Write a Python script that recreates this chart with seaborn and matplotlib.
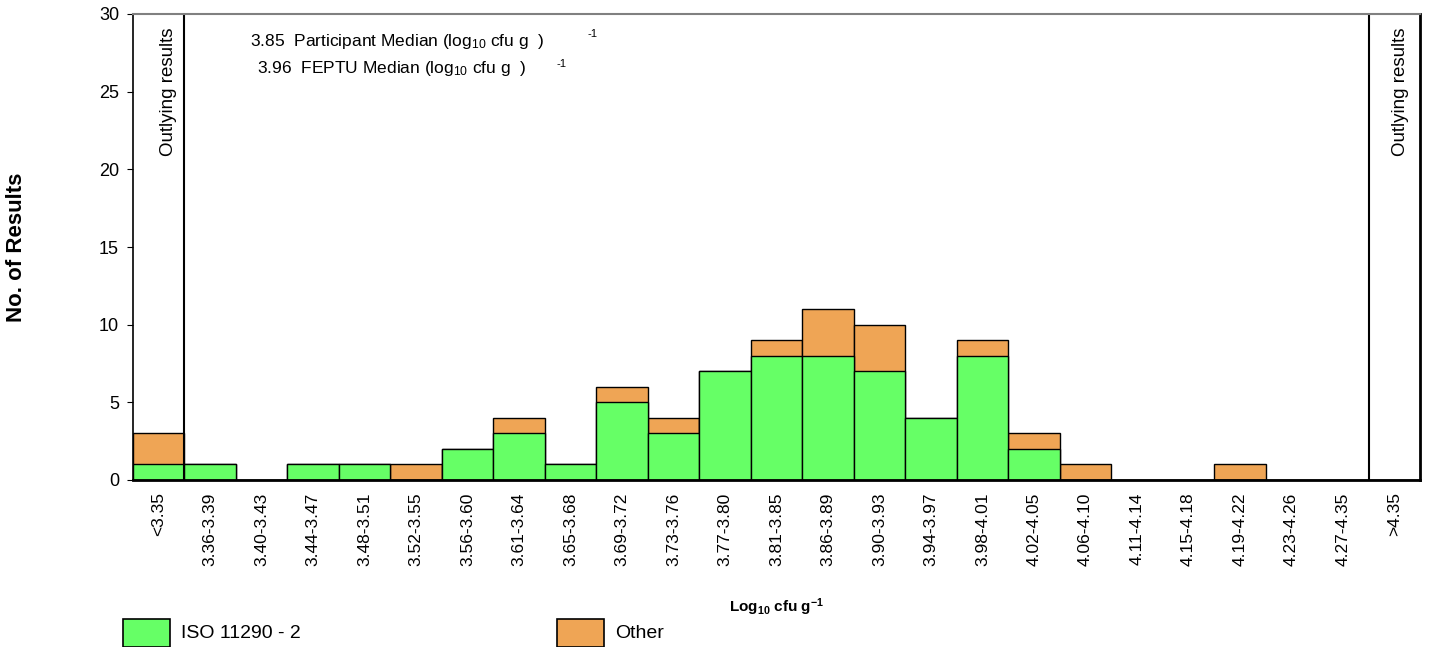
import matplotlib
matplotlib.use("Agg")
import matplotlib.pyplot as plt
import seaborn as sns
import pandas as pd
from matplotlib.patches import Rectangle

categories = ["<3.35", "3.36-3.39", "3.40-3.43", "3.44-3.47", "3.48-3.51", "3.52-3.55",
              "3.56-3.60", "3.61-3.64", "3.65-3.68", "3.69-3.72", "3.73-3.76", "3.77-3.80",
              "3.81-3.85", "3.86-3.89", "3.90-3.93", "3.94-3.97", "3.98-4.01", "4.02-4.05",
              "4.06-4.10", "4.11-4.14", "4.15-4.18", "4.19-4.22", "4.23-4.26", "4.27-4.35", ">4.35"]
iso_counts = [1, 1, 0, 1, 1, 0, 2, 3, 1, 5, 3, 7, 8, 8, 7, 4, 8, 2, 0, 0, 0, 0, 0, 0, 0]
other_counts = [2, 0, 0, 0, 0, 1, 0, 1, 0, 1, 1, 0, 1, 3, 3, 0, 1, 1, 1, 0, 0, 1, 0, 0, 0]
yticks = [0, 5, 10, 15, 20, 25, 30]
series_names = ["ISO 11290 - 2", "Other"]
participant_median = 3.85
feptu_median = 3.96

GREEN = "#66FF66"
ORANGE = "#EFA555"

sns.set_style("white")
plt.rcParams["font.family"] = ["Liberation Sans", "DejaVu Sans"]
plt.rcParams["mathtext.default"] = "regular"
for k in ["text.color", "axes.labelcolor", "xtick.color", "ytick.color"]:
    plt.rcParams[k] = "black"

df = pd.DataFrame({"cat": categories, "iso": iso_counts, "other": other_counts})
df["total"] = df["iso"] + df["other"]

fig = plt.figure(figsize=(14.29, 6.47), dpi=100)
ax = fig.add_axes([133 / 1429, 1 - 480 / 647, 1287 / 1429, 466 / 647])

sns.barplot(data=df, x="cat", y="total", color=ORANGE, saturation=1, width=1.0,
            edgecolor="black", linewidth=1.0, ax=ax)
sns.barplot(data=df, x="cat", y="iso", color=GREEN, saturation=1, width=1.0,
            edgecolor="black", linewidth=1.0, ax=ax)

ax.set_xlim(-0.5, len(categories) - 0.5)
ax.set_ylim(0, 30)
ax.set_yticks(yticks)
ax.tick_params(axis="y", labelsize=13, length=4, direction="out", left=True, pad=6)
ax.tick_params(axis="x", labelsize=12.5, length=0, pad=9)
plt.setp(ax.get_xticklabels(), rotation=90)

for s in ["left", "bottom", "right"]:
    ax.spines[s].set_color("black")
    ax.spines[s].set_linewidth(1.2)
ax.spines["right"].set_linewidth(2)
ax.spines["bottom"].set_linewidth(2)
ax.spines["top"].set_color("#808080")
ax.spines["top"].set_linewidth(1.5)

ax.set_xlabel("Log$_{10}$ cfu g$^{-1}$", fontsize=11, fontweight="bold", labelpad=22)
ax.set_ylabel("No. of Results", fontsize=16, fontweight="bold", labelpad=52)

ax.axvline(0.5, color="black", linewidth=1.5)
ax.axvline(len(categories) - 1.5, color="black", linewidth=1.5)
ax.text(0.18, 29.1, "Outlying results", rotation=90, ha="center", va="top", fontsize=13.5)
ax.text(len(categories) - 1 + 0.13, 29.1, "Outlying results", rotation=90, ha="center",
        va="top", fontsize=13.5)

ax.text(0.091, 0.942, f"{participant_median:.2f}  Participant Median (log$_{{10}}$ cfu g  )",
        transform=ax.transAxes, fontsize=12.5, va="center", ha="left")
ax.text(0.353, 0.957, "-1", transform=ax.transAxes, fontsize=8, va="center", ha="left")
ax.text(0.096, 0.884, f"{feptu_median:.2f}  FEPTU Median (log$_{{10}}$ cfu g  )",
        transform=ax.transAxes, fontsize=12.5, va="center", ha="left")
ax.text(0.329, 0.893, "-1", transform=ax.transAxes, fontsize=8, va="center", ha="left")

# legend
for x0, col, name in [(123, GREEN, series_names[0]), (557, ORANGE, series_names[1])]:
    fig.add_artist(Rectangle((x0 / 1429, 0), 47 / 1429, 28 / 647, transform=fig.transFigure,
                             facecolor=col, edgecolor="black", linewidth=1.2))
    fig.text((x0 + 58) / 1429, 1 - 633 / 647, name, fontsize=14, va="center", ha="left")

fig.savefig("out.png", dpi=100)
